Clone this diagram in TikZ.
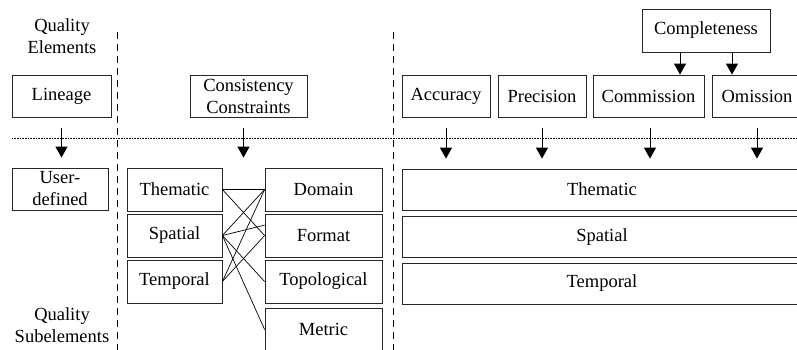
\documentclass[tikz,border=0pt]{standalone}
\usepackage{fontspec}
\setmainfont{Liberation Serif}
\usetikzlibrary{arrows.meta}

\begin{document}
\begin{tikzpicture}[x=1pt,y=-1pt,
		every node/.style={font=\fontsize{18.5}{22}\selectfont, inner sep=1.5pt, align=center},
		box/.style={draw=black!85, line width=0.8pt, minimum height=42pt},
		arr/.style={-{Triangle[width=12pt,length=11pt]}, line width=1pt, shorten <=11pt, shorten >=10pt},
		sep/.style={line width=0.8pt, dash pattern=on 7pt off 5pt}]
		\useasboundingbox (0,0) rectangle (797,350);
		
		\node (qe) at (62,36) {Quality\\Elements};
		\node (qs) at (62,325) {Quality\\Subelements};
		
		\node[box, minimum width=99pt] (lin) at (61.5,96) {Lineage};
		\node[box, minimum width=117pt] (con) at (248.5,96) {Consistency\\Constraints};
		\node[box, minimum width=88pt] (acc) at (446,96) {Accuracy};
		\node[box, minimum width=88pt] (pre) at (542,96) {Precision};
		\node[box, minimum width=111pt] (com) at (648.5,96) {Commission};
		\node[box, minimum width=90pt] (om) at (757,96) {Omission};
		\node[box, minimum width=128pt, minimum height=43pt] (cmp) at (706,30.5) {Completeness};
		
		\node[box, minimum width=96pt] (usr) at (60,189) {User-\\defined};
		\node[box, minimum width=95pt, minimum height=43pt] (thL) at (174.5,189.5) {Thematic};
		\node[box, minimum width=95pt, minimum height=43pt] (spL) at (174.5,235.5) {Spatial};
		\node[box, minimum width=95pt, minimum height=43pt] (tpL) at (174.5,281.5) {Temporal};
		\node[box, minimum width=117pt, minimum height=43pt] (dom) at (323.5,189.5) {Domain};
		\node[box, minimum width=117pt, minimum height=43pt] (fmt) at (323.5,235.5) {Format};
		\node[box, minimum width=117pt, minimum height=43pt] (top) at (323.5,281.5) {Topological};
		\node[box, minimum width=117pt, minimum height=43pt] (met) at (323.5,329.5) {Metric};
		\node[box, minimum width=400pt, minimum height=41pt] (thR) at (602,189.5) {Thematic};
		\node[box, minimum width=400pt, minimum height=41pt] (spR) at (602,237) {Spatial};
		\node[box, minimum width=400pt, minimum height=41pt] (tpR) at (602,283.5) {Temporal};
		
		\draw[sep] (117,32) -- (117,350);
		\draw[sep] (393,32) -- (393,350);
		\draw[line width=0.6pt, densely dotted] (12,138) -- (797,138);
		
		\draw[-{Triangle[width=12pt,length=11pt]}, line width=1pt] ([xshift=-26pt]cmp.south) -- ([xshift=-26pt]cmp.south |- com.north);
		\draw[-{Triangle[width=12pt,length=11pt]}, line width=1pt] ([xshift=26pt]cmp.south) -- ([xshift=26pt]cmp.south |- om.north);
		
		\draw[arr] (lin.south) -- (lin.south |- usr.north);
		\draw[arr] ([xshift=-5pt]con.south) -- ([xshift=-5pt]con.south |- thL.north);
		\draw[arr] (acc.south) -- (acc.south |- thR.north);
		\draw[arr] (pre.south) -- (pre.south |- thR.north);
		\draw[arr] ([xshift=1.5pt]com.south) -- ([xshift=1.5pt]com.south |- thR.north);
		\draw[arr] (om.south) -- (om.south |- thR.north);
		
		\draw[line width=0.7pt] (thL.east) -- (dom.west);
		\draw[line width=0.7pt] (thL.east) -- (fmt.west);
		\draw[line width=0.7pt] (spL.east) -- (dom.west);
		\draw[line width=0.7pt] (spL.east) -- (fmt.170);
		\draw[line width=0.7pt] (spL.east) -- (top.west);
		\draw[line width=0.7pt] (spL.east) -- (met.west);
		\draw[line width=0.7pt] (tpL.east) -- (dom.west);
		\draw[line width=0.7pt] (tpL.east) -- (fmt.west);
	\end{tikzpicture}
\end{document}
